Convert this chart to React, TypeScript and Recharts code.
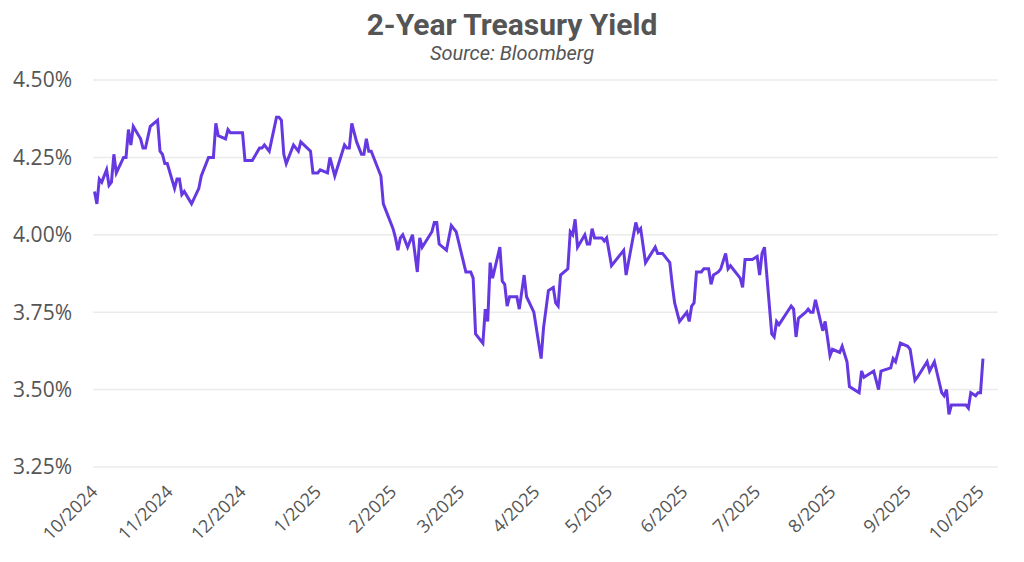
import React from 'react';
import { LineChart, Line, XAxis, YAxis, CartesianGrid } from 'recharts';

// 2-year treasury yield (turning points only)
const dates = [
  '2024-09-30', '2024-10-01', '2024-10-02', '2024-10-03', '2024-10-05', '2024-10-06', '2024-10-07', '2024-10-08',
  '2024-10-09', '2024-10-12', '2024-10-13', '2024-10-14', '2024-10-15', '2024-10-16', '2024-10-19', '2024-10-20',
  '2024-10-21', '2024-10-23', '2024-10-26', '2024-10-27', '2024-10-28', '2024-10-29', '2024-10-30', '2024-11-02',
  '2024-11-03', '2024-11-04', '2024-11-05', '2024-11-06', '2024-11-09', '2024-11-12', '2024-11-13', '2024-11-16',
  '2024-11-18', '2024-11-19', '2024-11-20', '2024-11-23', '2024-11-24', '2024-11-25', '2024-11-27', '2024-11-30',
  '2024-12-01', '2024-12-04', '2024-12-07', '2024-12-08', '2024-12-09', '2024-12-10', '2024-12-11', '2024-12-14',
  '2024-12-15', '2024-12-16', '2024-12-17', '2024-12-18', '2024-12-21', '2024-12-22', '2024-12-23', '2024-12-24',
  '2024-12-28', '2024-12-29', '2024-12-31', '2025-01-01', '2025-01-04', '2025-01-05', '2025-01-07', '2025-01-11',
  '2025-01-12', '2025-01-13', '2025-01-14', '2025-01-16', '2025-01-18', '2025-01-19', '2025-01-20', '2025-01-21',
  '2025-01-22', '2025-01-26', '2025-01-27', '2025-01-31', '2025-02-01', '2025-02-02', '2025-02-03', '2025-02-04',
  '2025-02-06', '2025-02-08', '2025-02-10', '2025-02-11', '2025-02-12', '2025-02-16', '2025-02-17', '2025-02-18',
  '2025-02-19', '2025-02-22', '2025-02-24', '2025-02-25', '2025-02-26', '2025-03-02', '2025-03-04', '2025-03-05',
  '2025-03-06', '2025-03-09', '2025-03-10', '2025-03-11', '2025-03-12', '2025-03-13', '2025-03-16', '2025-03-17',
  '2025-03-18', '2025-03-19', '2025-03-20', '2025-03-23', '2025-03-24', '2025-03-26', '2025-03-27', '2025-03-30',
  '2025-04-02', '2025-04-03', '2025-04-05', '2025-04-07', '2025-04-08', '2025-04-09', '2025-04-10', '2025-04-13',
  '2025-04-14', '2025-04-15', '2025-04-16', '2025-04-17', '2025-04-20', '2025-04-21', '2025-04-22', '2025-04-23',
  '2025-04-24', '2025-04-27', '2025-04-28', '2025-04-29', '2025-05-01', '2025-05-05', '2025-05-06', '2025-05-07',
  '2025-05-11', '2025-05-12', '2025-05-13', '2025-05-15', '2025-05-19', '2025-05-20', '2025-05-22', '2025-05-25',
  '2025-05-26', '2025-05-27', '2025-05-29', '2025-06-01', '2025-06-02', '2025-06-03', '2025-06-04', '2025-06-05',
  '2025-06-07', '2025-06-08', '2025-06-10', '2025-06-11', '2025-06-12', '2025-06-14', '2025-06-15', '2025-06-17',
  '2025-06-18', '2025-06-19', '2025-06-23', '2025-06-24', '2025-06-25', '2025-06-28', '2025-06-30', '2025-07-01',
  '2025-07-02', '2025-07-03', '2025-07-06', '2025-07-07', '2025-07-08', '2025-07-09', '2025-07-14', '2025-07-15',
  '2025-07-16', '2025-07-17', '2025-07-20', '2025-07-21', '2025-07-22', '2025-07-23', '2025-07-24', '2025-07-27',
  '2025-07-28', '2025-07-30', '2025-07-31', '2025-08-03', '2025-08-04', '2025-08-06', '2025-08-07', '2025-08-11',
  '2025-08-12', '2025-08-13', '2025-08-17', '2025-08-19', '2025-08-20', '2025-08-24', '2025-08-25', '2025-08-26',
  '2025-08-28', '2025-08-31', '2025-09-01', '2025-09-03', '2025-09-04', '2025-09-08', '2025-09-09', '2025-09-11',
  '2025-09-14', '2025-09-15', '2025-09-16', '2025-09-17', '2025-09-18', '2025-09-24', '2025-09-25', '2025-09-26',
  '2025-09-28', '2025-09-29', '2025-09-30', '2025-10-01',
];

const yields = [
  4.14, 4.10, 4.18, 4.17, 4.21, 4.16, 4.17, 4.26,
  4.20, 4.25, 4.25, 4.34, 4.29, 4.35, 4.31, 4.28,
  4.28, 4.35, 4.37, 4.27, 4.26, 4.23, 4.23, 4.15,
  4.18, 4.18, 4.13, 4.14, 4.10, 4.15, 4.19, 4.25,
  4.25, 4.36, 4.32, 4.31, 4.34, 4.33, 4.33, 4.33,
  4.24, 4.24, 4.28, 4.28, 4.29, 4.28, 4.27, 4.38,
  4.38, 4.37, 4.26, 4.23, 4.29, 4.28, 4.27, 4.30,
  4.27, 4.20, 4.20, 4.21, 4.20, 4.25, 4.19, 4.29,
  4.28, 4.28, 4.36, 4.30, 4.26, 4.26, 4.31, 4.27,
  4.27, 4.19, 4.10, 4.02, 3.99, 3.95, 3.99, 4.00,
  3.96, 4.00, 3.88, 3.99, 3.96, 4.01, 4.04, 4.04,
  3.97, 3.95, 4.03, 4.02, 4.01, 3.88, 3.88, 3.86,
  3.68, 3.65, 3.76, 3.72, 3.91, 3.86, 3.96, 3.85,
  3.84, 3.77, 3.80, 3.80, 3.76, 3.87, 3.80, 3.75,
  3.60, 3.70, 3.82, 3.83, 3.78, 3.77, 3.87, 3.89,
  4.01, 4.00, 4.05, 3.96, 4.00, 3.97, 3.97, 4.02,
  3.99, 3.99, 3.98, 3.99, 3.90, 3.94, 3.95, 3.87,
  4.04, 4.01, 4.02, 3.91, 3.96, 3.94, 3.94, 3.91,
  3.84, 3.78, 3.72, 3.75, 3.72, 3.77, 3.78, 3.88,
  3.88, 3.89, 3.89, 3.84, 3.87, 3.88, 3.89, 3.94,
  3.89, 3.90, 3.86, 3.83, 3.92, 3.92, 3.93, 3.87,
  3.94, 3.96, 3.68, 3.67, 3.72, 3.71, 3.77, 3.76,
  3.67, 3.73, 3.75, 3.76, 3.75, 3.75, 3.79, 3.69,
  3.72, 3.61, 3.63, 3.62, 3.64, 3.59, 3.51, 3.49,
  3.56, 3.54, 3.56, 3.50, 3.56, 3.57, 3.60, 3.59,
  3.65, 3.64, 3.63, 3.53, 3.54, 3.59, 3.56, 3.59,
  3.49, 3.48, 3.50, 3.42, 3.45, 3.45, 3.44, 3.49,
  3.48, 3.49, 3.49, 3.60,
];

const tickDates = [
  '2024-10-01', '2024-11-01', '2024-12-01', '2025-01-01', '2025-02-01', '2025-03-01', '2025-04-01',
  '2025-05-01', '2025-06-01', '2025-07-01', '2025-08-01', '2025-09-01', '2025-10-01',
];
const yTicks = [3.25, 3.5, 3.75, 4.0, 4.25, 4.5];

const ORIGIN = Date.UTC(2024, 9, 1);
const toDay = (s: string) => {
  const [y, m, d] = s.split('-').map(Number);
  return Math.round((Date.UTC(y, m - 1, d) - ORIGIN) / 86400000);
};
const tickLabel = (s: string) => {
  const [y, m] = s.split('-').map(Number);
  return `${m}/${y}`;
};

const data = dates.map((d, i) => ({ day: toDay(d), yield: yields[i] }));
const xTicks = tickDates.map(toDay);
const labelByDay: Record<number, string> = {};
tickDates.forEach((d) => (labelByDay[toDay(d)] = tickLabel(d)));

const TEXT = '#555555';
const FONT = '"Open Sans", sans-serif';

const AngledTick = ({ x, y, payload }: any) => (
  <g transform={`translate(${x + 2},${y + 18})`}>
    <text textAnchor="end" transform="rotate(-45)" fill={TEXT} fontSize={18} fontFamily={FONT}>
      {labelByDay[payload.value]}
    </text>
  </g>
);

export default function App() {
  return (
    <div style={{ position: 'absolute', left: 0, top: 0, width: 1024, height: 562, background: '#fff' }}>
      <div
        style={{
          position: 'absolute', top: 7, left: 0, width: 1024, textAlign: 'center',
          fontFamily: 'Roboto, sans-serif', fontWeight: 700, fontSize: 30, lineHeight: '36px', color: TEXT,
        }}
      >
        2-Year Treasury Yield
      </div>
      <div
        style={{
          position: 'absolute', top: 41, left: 0, width: 1024, textAlign: 'center',
          fontFamily: 'Roboto, sans-serif', fontStyle: 'italic', fontSize: 20, lineHeight: '24px', color: TEXT,
        }}
      >
        Source: Bloomberg
      </div>
      <LineChart
        width={1024}
        height={562}
        data={data}
        margin={{ top: 80, right: 26, bottom: 35, left: 8 }}
      >
        <CartesianGrid vertical={false} stroke="#ebebeb" strokeWidth={1.5} />
        <XAxis
          dataKey="day"
          type="number"
          domain={[-1.6, 371.2]}
          ticks={xTicks}
          allowDataOverflow
          axisLine={false}
          tickLine={false}
          height={60}
          interval={0}
          tick={<AngledTick />}
        />
        <YAxis
          domain={[3.25, 4.5]}
          ticks={yTicks}
          width={85}
          axisLine={false}
          tickLine={false}
          tickMargin={15}
          tickFormatter={(v: number) => `${v.toFixed(2)}%`}
          tick={{ fill: TEXT, fontSize: 21, fontFamily: FONT }}
        />
        <Line
          type="linear"
          dataKey="yield"
          stroke="#6638e2"
          strokeWidth={3}
          dot={false}
          isAnimationActive={false}
        />
      </LineChart>
    </div>
  );
}
